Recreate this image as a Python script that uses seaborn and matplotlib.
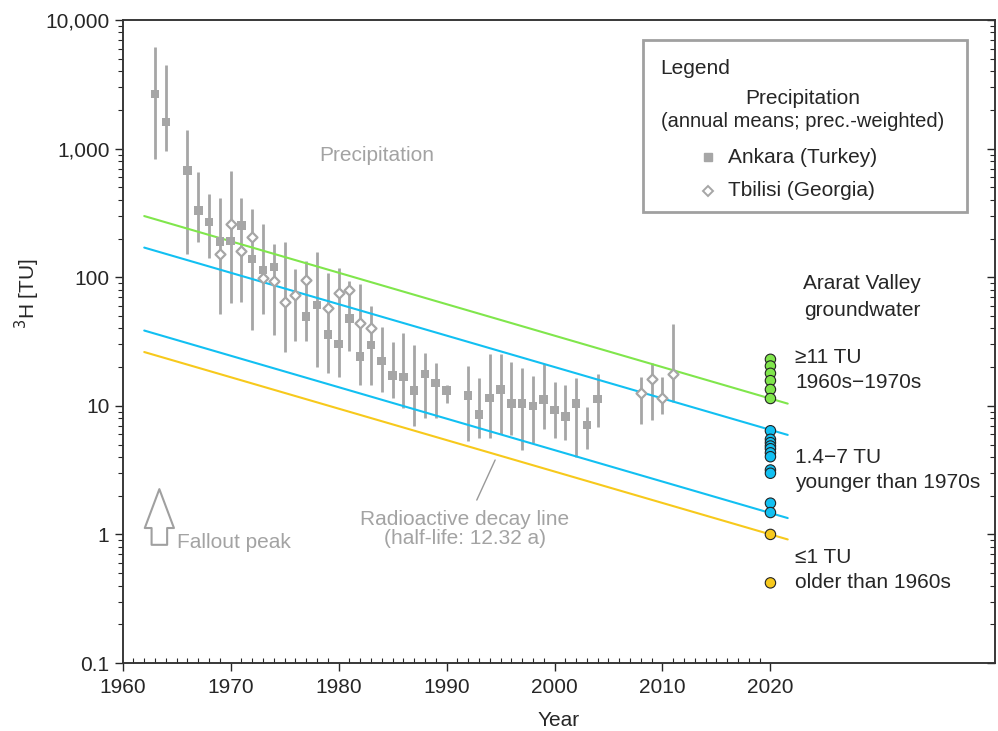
import numpy as np
import pandas as pd
import matplotlib
matplotlib.use('Agg')
import matplotlib.pyplot as plt
import matplotlib.ticker as mticker
from matplotlib.patches import Rectangle
import seaborn as sns

# Ankara (Turkey) precipitation, annual means [TU] with the drawn range
ankara_year = [1963, 1964, 1966, 1967, 1968, 1969, 1970, 1971, 1972, 1973, 1974,
               1977, 1978, 1979, 1980, 1981, 1982, 1983, 1984, 1985, 1986, 1987,
               1988, 1989, 1990, 1992, 1993, 1994, 1995, 1996, 1997, 1998, 1999,
               2000, 2001, 2002, 2003, 2004]
ankara_tu = [2659, 1617, 678, 329, 268, 190, 192, 253, 139, 114, 120,
             49.3, 60.8, 36, 30.3, 47.9, 24.1, 29.7, 22.3, 17.2, 16.8, 13.1,
             17.7, 15.0, 13.1, 12.0, 8.6, 11.5, 13.4, 10.4, 10.4, 10.0, 11.2,
             9.3, 8.3, 10.4, 7.1, 11.3]
ankara_lo = [826, 964, 151, 187, 142, 51.5, 63.4, 64.4, 38.8, 51.8, 35.6,
             32, 20.1, 17.9, 16.8, 26.8, 14.5, 14.5, 12.7, 11.6, 9.7, 7.0,
             8.0, 8.1, 10.6, 5.3, 5.6, 5.6, 6.0, 5.9, 4.5, 5.1, 6.6,
             5.6, 5.4, 4.0, 4.6, 6.9]
ankara_hi = [6195, 4498, 1396, 655, 443, 410, 673, 410, 337, 259, 180,
             134, 158, 107, 119, 93, 88, 60, 41.2, 31.5, 36.6, 29.7,
             25.6, 21.6, 14.5, 20.5, 16.6, 25.1, 25.1, 22, 19.6, 17.1, 21,
             15.2, 14.5, 16.4, 9.8, 17.6]

# Tbilisi (Georgia) precipitation
tbilisi_year = [1969, 1970, 1971, 1972, 1973, 1974, 1975, 1976, 1977, 1979,
                1980, 1981, 1982, 1983, 2008, 2009, 2010, 2011]
tbilisi_tu = [151, 261, 160, 207, 99, 93, 64, 73, 96, 58,
              75, 79.4, 43.7, 40, 12.5, 16.1, 11.6, 17.7]
tbilisi_lo = [np.nan] * 6 + [26.4, 31.9] + [np.nan] * 6 + [7.2, 7.8, 8.6, 10.8]
tbilisi_hi = [np.nan] * 6 + [189, 115] + [np.nan] * 6 + [16.8, 21.4, 16.8, 43.3]

# Ararat Valley groundwater samples (2020)
gw_green = [23.0, 20.4, 17.9, 15.7, 13.4, 11.4]
gw_blue = [6.4, 5.49, 5.17, 4.87, 4.64, 4.31, 4.02, 3.17, 2.99, 1.75, 1.48]
gw_yellow = [1.0, 0.42]
gw_year = 2020

# radioactive decay lines (start / end values)
decay_x = [1962, 2021.6]
decay_green = [299, 10.4]
decay_blue_hi = [170, 5.94]
decay_blue_lo = [38.5, 1.34]
decay_yellow = [26.2, 0.914]

GREEN = '#80E64C'
BLUE = '#12C0F2'
YELLOW = '#F7C91C'
GRAY = '#A6A6A6'
TXT_GRAY = '#A3A3A3'
FS = 15

sns.set_style('ticks')
plt.rcParams['font.family'] = ['Liberation Sans', 'DejaVu Sans']
plt.rcParams['axes.linewidth'] = 1.1
plt.rcParams['axes.edgecolor'] = '#333333'

fig = plt.figure(figsize=(9.98, 7.31), dpi=100)
ax = fig.add_axes([0.1229, 0.0930, 0.8741, 0.8796])

# error bars
ax.vlines(ankara_year, ankara_lo, ankara_hi, color=GRAY, lw=2, zorder=2)
ax.vlines(tbilisi_year, tbilisi_lo, tbilisi_hi, color=GRAY, lw=2, zorder=2)

# decay lines
for vals, c in [(decay_green, GREEN), (decay_blue_hi, BLUE),
                (decay_blue_lo, BLUE), (decay_yellow, YELLOW)]:
    ax.plot(decay_x, vals, color=c, lw=1.5, zorder=3)

# precipitation markers
sns.scatterplot(x=ankara_year, y=ankara_tu, marker='s', s=38, color=GRAY,
                edgecolor='none', ax=ax, zorder=4)
sns.scatterplot(x=tbilisi_year, y=tbilisi_tu, marker='D', s=26, color='white',
                edgecolor=GRAY, linewidth=1.6, ax=ax, zorder=5)

# groundwater
gw = pd.DataFrame({
    'year': [gw_year] * (len(gw_green) + len(gw_blue) + len(gw_yellow)),
    'tu': gw_green + gw_blue + gw_yellow,
    'grp': ['g'] * len(gw_green) + ['b'] * len(gw_blue) + ['y'] * len(gw_yellow),
})
sns.scatterplot(data=gw, x='year', y='tu', hue='grp',
                palette={'g': GREEN, 'b': BLUE, 'y': YELLOW},
                s=56, edgecolor='#222222', linewidth=0.8, legend=False,
                ax=ax, zorder=6)

ax.set_yscale('log')
ax.set_ylim(0.1, 10000)
ax.set_xlim(1960, 2040.8)
ax.yaxis.set_major_locator(mticker.LogLocator(base=10, numticks=10))
ax.yaxis.set_minor_locator(mticker.LogLocator(base=10, subs=np.arange(2, 10), numticks=20))
ax.yaxis.set_major_formatter(mticker.FuncFormatter(lambda v, p: f'{v:,.0f}' if v >= 1 else f'{v:g}'))
ax.yaxis.set_minor_formatter(mticker.NullFormatter())
ax.xaxis.set_major_locator(mticker.FixedLocator(range(1960, 2021, 10)))
ax.xaxis.set_minor_locator(mticker.FixedLocator(range(1961, 2020)))

ax.tick_params(axis='y', which='major', direction='out', length=6, width=1, labelsize=FS)
ax.tick_params(axis='y', which='minor', direction='out', length=3.5, width=0.8)
ax.tick_params(axis='x', which='major', direction='out', length=6, width=1, labelsize=FS, pad=5)
ax.tick_params(axis='x', which='minor', direction='in', length=3.5, width=0.8)

# inner ticks on the right spine
ax2 = ax.twinx()
ax2.set_yscale('log')
ax2.set_ylim(ax.get_ylim())
ax2.yaxis.set_major_locator(mticker.LogLocator(base=10, numticks=10))
ax2.yaxis.set_minor_locator(mticker.LogLocator(base=10, subs=np.arange(2, 10), numticks=20))
ax2.yaxis.set_major_formatter(mticker.NullFormatter())
ax2.yaxis.set_minor_formatter(mticker.NullFormatter())
ax2.tick_params(axis='y', which='major', direction='in', length=6, width=1)
ax2.tick_params(axis='y', which='minor', direction='in', length=3.5, width=0.8)

ax.set_xlabel('Year', fontsize=FS)
ax.xaxis.set_label_coords(0.5, -0.074)
ax.set_ylabel('$^{3}$H [TU]', fontsize=15)
ax.yaxis.set_label_coords(-0.093, 0.575)

# annotations
ax.text(0.2916, 0.790, 'Precipitation', transform=ax.transAxes, ha='center',
        va='center', fontsize=FS, color=TXT_GRAY)
ax.text(0.3925, 0.2084, 'Radioactive decay line\n(half-life: 12.32 a)',
        transform=ax.transAxes, ha='center', va='center', fontsize=FS,
        color=TXT_GRAY, linespacing=1.05)
ax.plot([1992.8, 1994.5], [1.85, 3.79], color='#999999', lw=1, zorder=2)
ax.annotate('', xy=(1963.4, 2.25), xytext=(1963.4, 0.83),
            arrowprops=dict(arrowstyle='simple,head_length=1.0,head_width=0.75,tail_width=0.4',
                            fc='white', ec='#A0A0A0', lw=1.5, mutation_scale=28,
                            shrinkA=0, shrinkB=0))
ax.text(0.0618, 0.188, 'Fallout peak', transform=ax.transAxes, ha='left',
        va='center', fontsize=FS, color=TXT_GRAY)

ax.text(0.8474, 0.569, 'Ararat Valley\ngroundwater', transform=ax.transAxes,
        ha='center', va='center', fontsize=FS, linespacing=1.5)
ax.text(0.7707, 0.4557, '\u226511 TU\n1960s\u22121970s', transform=ax.transAxes,
        ha='left', va='center', fontsize=FS, linespacing=1.35)
ax.text(0.7707, 0.300, '1.4\u22127 TU\nyounger than 1970s', transform=ax.transAxes,
        ha='left', va='center', fontsize=FS, linespacing=1.35)
ax.text(0.7707, 0.1446, '\u22641 TU\nolder than 1960s', transform=ax.transAxes,
        ha='left', va='center', fontsize=FS, linespacing=1.35)

# legend box
ax.add_patch(Rectangle((0.5966, 0.7014), 0.3714, 0.2676, transform=ax.transAxes,
                       facecolor='white', edgecolor='#A0A0A0', lw=2, zorder=7))
ax.text(0.616, 0.9253, 'Legend', transform=ax.transAxes, ha='left', va='center',
        fontsize=FS, zorder=8)
ax.text(0.7799, 0.8787, 'Precipitation', transform=ax.transAxes, ha='center',
        va='center', fontsize=FS, zorder=8)
ax.text(0.7799, 0.8429, '(annual means; prec.-weighted)', transform=ax.transAxes,
        ha='center', va='center', fontsize=14.5, zorder=8)
ax.plot(0.671, 0.7869, marker='s', ms=6, color=GRAY, transform=ax.transAxes,
        zorder=8, clip_on=False)
ax.plot(0.671, 0.7341, marker='D', ms=5, mfc='white', mec=GRAY, mew=1.4,
        transform=ax.transAxes, zorder=8, clip_on=False)
ax.text(0.694, 0.7869, 'Ankara (Turkey)', transform=ax.transAxes, ha='left',
        va='center', fontsize=FS, zorder=8)
ax.text(0.694, 0.7341, 'Tbilisi (Georgia)', transform=ax.transAxes, ha='left',
        va='center', fontsize=FS, zorder=8)

fig.savefig('out.png', dpi=100)
